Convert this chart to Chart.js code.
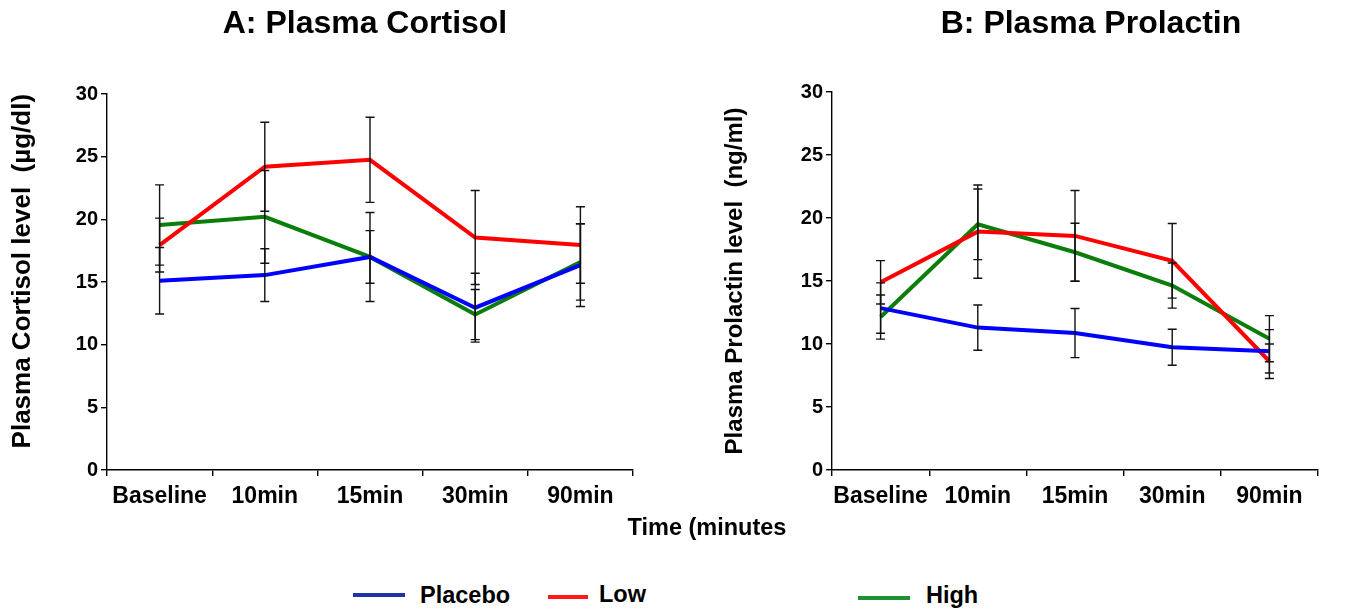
<!DOCTYPE html>
<html>
<head>
<meta charset="utf-8">
<script src="https://cdn.jsdelivr.net/npm/chart.js@4.4.0/dist/chart.umd.min.js"></script>
<style>
  html, body { margin: 0; padding: 0; background: #fff; }
  body { width: 1361px; height: 614px; position: relative; overflow: hidden;
         font-family: "Liberation Sans", Arial, sans-serif; font-weight: bold; color: #000; }
  canvas { position: absolute; top: 0; }
  .t { position: absolute; white-space: pre; line-height: 1; }
  .leg { position: absolute; height: 4px; }
</style>
</head>
<body>
<canvas id="cA" width="680" height="520" style="left:0px"></canvas>
<canvas id="cB" width="661" height="520" style="left:700px"></canvas>

<div class="t" style="left:365px; top:6px; font-size:32px; transform:translateX(-50%);">A: Plasma Cortisol</div>
<div class="t" style="left:1091px; top:6px; font-size:32px; transform:translateX(-50%);">B: Plasma Prolactin</div>
<div class="t" style="left:707px; top:516px; font-size:23.5px; transform:translateX(-50%);">Time (minutes</div>

<div class="leg" style="left:353px; top:593px; width:52px; background:#1f33a6;"></div>
<div class="t" style="left:420px; top:584px; font-size:23.5px;">Placebo</div>
<div class="leg" style="left:548px; top:595px; width:40px; background:#ff1a1a;"></div>
<div class="t" style="left:599px; top:583px; font-size:23.5px;">Low</div>
<div class="leg" style="left:858px; top:596px; width:52px; background:#1e9232;"></div>
<div class="t" style="left:926px; top:584px; font-size:23.5px;">High</div>

<script>
// ---- data ----
const categories = ['Baseline', '10min', '15min', '30min', '90min'];
const seriesNames = ['Placebo', 'Low', 'High'];

const cortisolPlacebo    = [15.1, 15.55, 17.0, 12.95, 16.35];
const cortisolPlaceboErr = [2.65, 2.1, 2.1, 2.75, 3.3];
const cortisolLow        = [17.95, 24.2, 24.75, 18.55, 17.95];
const cortisolLowErr     = [2.15, 3.55, 3.4, 3.75, 3.05];
const cortisolHigh       = [19.55, 20.2, 17.0, 12.4, 16.6];
const cortisolHighErr    = [3.2, 3.7, 3.55, 2.0, 3.05];

const prolactinPlacebo    = [12.85, 11.3, 10.87, 9.74, 9.42];
const prolactinPlaceboErr = [2.0, 1.8, 1.95, 1.43, 1.72];
const prolactinLow        = [14.9, 18.92, 18.58, 16.6, 8.63];
const prolactinLowErr     = [1.72, 3.7, 3.6, 2.96, 1.37];
const prolactinHigh       = [12.14, 19.5, 17.28, 14.64, 10.42];
const prolactinHighErr    = [1.75, 2.8, 2.3, 1.79, 1.83];

const yTickValues = [0, 5, 10, 15, 20, 25, 30];

// ---- styles ----
const lineColors = ['#0000ff', '#ff0000', '#0a7d0a'];
const FONT = '"Liberation Sans", Arial, sans-serif';

const errorBarPlugin = {
  id: 'errorBars',
  afterDatasetsDraw(chart) {
    const ctx = chart.ctx;
    const y = chart.scales.y;
    ctx.save();
    ctx.strokeStyle = '#111';
    ctx.lineWidth = 1.4;
    chart.data.datasets.forEach((ds, di) => {
      const meta = chart.getDatasetMeta(di);
      meta.data.forEach((pt, i) => {
        const v = ds.data[i], e = ds.errors[i];
        const yt = y.getPixelForValue(v + e);
        const yb = y.getPixelForValue(v - e);
        const x = pt.x;
        ctx.beginPath();
        ctx.moveTo(x, yt); ctx.lineTo(x, yb);
        ctx.moveTo(x - 4.5, yt); ctx.lineTo(x + 4.5, yt);
        ctx.moveTo(x - 4.5, yb); ctx.lineTo(x + 4.5, yb);
        ctx.stroke();
      });
    });
    ctx.restore();
  }
};

function makeChart(id, values, errors, yTitle, titleSize, yWidth, titlePad, pad) {
  return new Chart(document.getElementById(id), {
    type: 'line',
    data: {
      labels: categories,
      datasets: values.map((vals, k) => ({
        label: seriesNames[k],
        data: vals,
        errors: errors[k],
        borderColor: lineColors[k],
        backgroundColor: lineColors[k],
        borderWidth: 4,
        pointRadius: 0,
        tension: 0,
        fill: false
      }))
    },
    options: {
      responsive: false,
      animation: false,
      devicePixelRatio: 1,
      layout: { padding: pad },
      plugins: { legend: { display: false }, tooltip: { enabled: false }, title: { display: false } },
      scales: {
        x: {
          type: 'category',
          offset: true,
          grid: { offset: true, drawOnChartArea: false, drawTicks: true, tickLength: 6, color: '#000', lineWidth: 1.4 },
          border: { display: true, color: '#000', width: 1.4 },
          ticks: { color: '#000', padding: 7, autoSkip: false, font: { family: FONT, size: 23, weight: 'bold' }, maxRotation: 0, minRotation: 0 },
          afterFit: s => { s.height = 50; }
        },
        y: {
          min: 0, max: 30,
          afterBuildTicks: s => { s.ticks = yTickValues.map(v => ({ value: v })); },
          grid: { drawOnChartArea: false, drawTicks: true, tickLength: 6, color: '#000', lineWidth: 1.4 },
          border: { display: true, color: '#000', width: 1.4 },
          ticks: { color: '#000', padding: 3, font: { family: FONT, size: 20, weight: 'bold' } },
          title: { display: true, text: yTitle, color: '#000', padding: { top: titlePad, bottom: 0 },
                   font: { family: FONT, size: titleSize, weight: 'bold' } },
          afterFit: s => { s.width = yWidth; }
        }
      }
    },
    plugins: [errorBarPlugin]
  });
}

makeChart('cA',
  [cortisolPlacebo, cortisolLow, cortisolHigh],
  [cortisolPlaceboErr, cortisolLowErr, cortisolHighErr],
  '   Plasma Cortisol level  (µg/dl)', 26, 107, 7,
  { top: 94, bottom: 0, left: 0, right: 47 });

makeChart('cB',
  [prolactinPlacebo, prolactinLow, prolactinHigh],
  [prolactinPlaceboErr, prolactinLowErr, prolactinHighErr],
  'Plasma Prolactin level  (ng/ml)', 24, 132, 21,
  { top: 92, bottom: 0, left: 0, right: 43 });
</script>
</body>
</html>
